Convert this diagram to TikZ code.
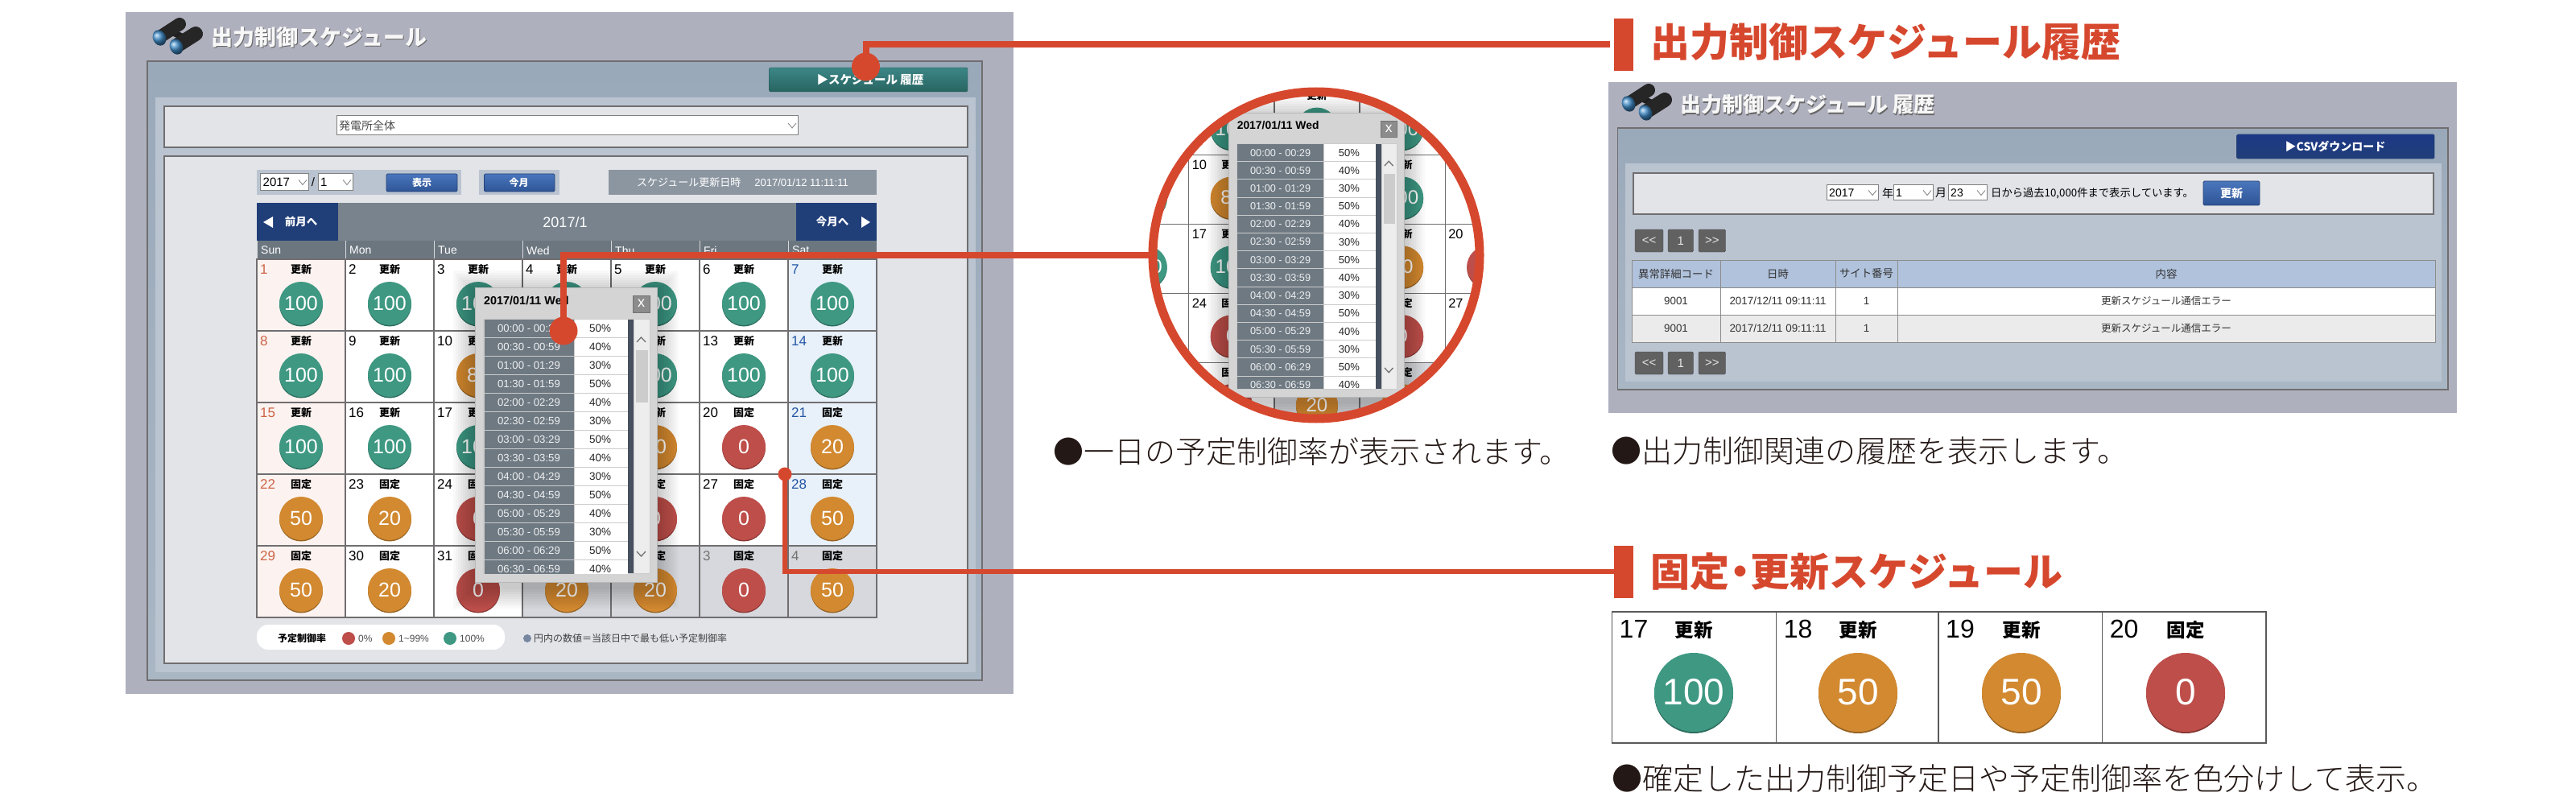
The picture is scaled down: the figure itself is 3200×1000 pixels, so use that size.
\documentclass[tikz,border=0pt]{standalone}
\usepackage{fontspec}
\setmainfont{Liberation Sans}
\newfontfamily\jp{Noto Sans CJK JP}
\newfontfamily\jplight{Noto Sans CJK JP Light}
\newcommand{\jpfs}[1]{\jp\fontsize{#1}{#1}\selectfont}
\newcommand{\jplightfs}[1]{\jplight\fontsize{#1}{#1}\selectfont}
\newcommand{\enfs}[1]{\fontsize{#1}{#1}\selectfont}

\definecolor{pagebg}{RGB}{175,176,190}
\definecolor{framebg}{RGB}{154,169,186}
\definecolor{innerbg}{RGB}{186,196,208}
\definecolor{panelbg}{RGB}{226,228,232}
\definecolor{edgegray}{RGB}{112,110,112}
\definecolor{ballteal}{RGB}{62,152,130}
\definecolor{ballorange}{RGB}{210,137,48}
\definecolor{ballred}{RGB}{190,78,74}
\definecolor{sunbg}{RGB}{252,243,240}
\definecolor{satbg}{RGB}{232,241,249}
\definecolor{nextbg}{RGB}{214,216,221}
\definecolor{sunnum}{RGB}{205,100,70}
\definecolor{satnum}{RGB}{35,85,165}
\definecolor{navy}{RGB}{32,62,120}
\definecolor{slate}{RGB}{120,131,141}
\definecolor{redmark}{RGB}{214,72,46}
\definecolor{captext}{RGB}{35,24,21}
\definecolor{tablehead}{RGB}{176,194,220}
\definecolor{btntop}{RGB}{74,118,188}
\definecolor{btnlow}{RGB}{46,84,150}
\definecolor{tealtop}{RGB}{60,135,135}
\definecolor{teallow}{RGB}{40,100,96}
\definecolor{scrolldark}{RGB}{70,80,95}
\definecolor{notedot}{RGB}{120,135,160}

\tikzset{
    jptext/.style={font=\jpfs{#1}, inner sep=0pt},
    jpbold/.style={font=\jpfs{#1}\bfseries, inner sep=0pt},
    entext/.style={font=\enfs{#1}, inner sep=0pt},
    enbold/.style={font=\enfs{#1}\bfseries, inner sep=0pt},
    dayball/.style={circle, fill=#1, minimum size=54, inner sep=0pt, text=white, font=\enfs{25}},
    panelbox/.style={draw=edgegray, line width=1.5, fill=panelbg},
    selectbox/.style={draw=gray, line width=1, fill=white},
    bluebtn/.style={draw=btnlow!80!black, line width=.8, rounded corners=1.5, top color=btntop, bottom color=btnlow},
    pagerbtn/.style={draw=gray!60!black, rounded corners=1.5, fill=black!62},
    redwire/.style={draw=redmark, line width=#1},
    reddot/.style={circle, fill=redmark, inner sep=0pt, minimum size=#1},
    redbar/.style={rectangle, fill=redmark, inner sep=0pt, minimum width=24.5, minimum height=65},
    lensrim/.style={circle, draw=redmark, line width=11, inner sep=0pt, minimum size=406},
    caption/.style={font=\jplightfs{38}, inner sep=0pt, text=captext, anchor=west},
    heading/.style={font=\jpfs{49}\bfseries, inner sep=0pt, text=redmark, anchor=west},
}

\newcommand{\binoculars}[1]{
    \begin{scope}[shift={(#1)}]
        \draw [black!88, line width=8] (14,-8) -- (33,1);
        \draw [black!85, line width=16, line cap=round] (2,-2) -- (25,-17);
        \draw [black!85, line width=18, line cap=round] (23,9) -- (45,-5);
        \shade [ball color=btntop!85!cyan, rotate=25] (0,0) ellipse (8 and 10);
        \shade [ball color=btntop!85!cyan, shift={(21,11)}, rotate=25] (0,0) ellipse (8 and 10);
    \end{scope}
}

\newcommand{\titlebar}[3]{
    \node [jpbold=#3, text=black!60, anchor=west] (#1shade) at (#2) [xshift=1.5, yshift=-1.5] {\titletext};
    \node [jpbold=#3, text=white!94!gray, anchor=west] (#1) at (#2) {\titletext};
}

\newcommand{\dropbox}[5]{
    \draw [selectbox] (#1,#2) rectangle (#3,#4);
    \draw [gray, line width=.8] (#3-12,#2*.5+#4*.5-3) -- (#3-7,#2*.5+#4*.5+3) -- (#3-2,#2*.5+#4*.5-3);
    \node [#5] (boxtext) at (#1+3,#2*.5+#4*.5) [anchor=west] {\boxlabel};
}

\newcommand{\calgrid}{
    \fill [white] (319,322) rectangle (1089,767);
    \foreach \d/\st/\v [count=\i from 0] in {
        1/更新/100, 2/更新/100, 3/更新/100, 4/更新/100, 5/更新/100, 6/更新/100, 7/更新/100,
        8/更新/100, 9/更新/100, 10/更新/80, 11/更新/100, 12/更新/100, 13/更新/100, 14/更新/100,
        15/更新/100, 16/更新/100, 17/更新/100, 18/更新/50, 19/更新/50, 20/固定/0, 21/固定/20,
        22/固定/50, 23/固定/20, 24/固定/0, 25/固定/0, 26/固定/0, 27/固定/0, 28/固定/50,
        29/固定/50, 30/固定/20, 31/固定/0, 1/固定/20, 2/固定/20, 3/固定/0, 4/固定/50} {
        \pgfmathtruncatemacro{\col}{mod(\i,7)}
        \pgfmathtruncatemacro{\cx}{319+110*\col}
        \pgfmathtruncatemacro{\cy}{322+89*int(\i/7)}
        \def\cellbg{white}\def\numcol{black}
        \ifnum\col=0 \def\cellbg{sunbg}\def\numcol{sunnum}\fi
        \ifnum\col=6 \def\cellbg{satbg}\def\numcol{satnum}\fi
        \ifnum\i>30 \def\cellbg{nextbg}\def\numcol{black!55}\fi
        \def\ballcol{ballorange}
        \ifnum\v=100 \def\ballcol{ballteal}\fi
        \ifnum\v=0 \def\ballcol{ballred}\fi
        \def\daylabel{\d}\def\statlabel{\st}\def\balllabel{\v}
        \ifnum\col=3
            \ifnum\i=3 \def\balllabel{}\fi
            \ifnum\i>3 \def\daylabel{}\def\statlabel{}\ifnum\i<31 \def\balllabel{}\fi\fi
        \fi
        \ifnum\col=4 \ifnum\i>4 \def\daylabel{}\fi\fi
        \draw [edgegray, line width=1.2, fill=\cellbg] (\cx,\cy) rectangle (\cx+110,\cy+89);
        \node [entext=17, text=\numcol, anchor=west] (num\i) at (\cx+4,\cy+13) {\daylabel};
        \node [jpbold=13] (stat\i) at (\cx+55,\cy+13) {\statlabel};
        \fill [\ballcol!72!black] (\cx+55,\cy+56.5) circle (27);
        \node [dayball=\ballcol] (ball\i) at (\cx+55,\cy+55) {\balllabel};
    }
    \foreach \s in {3,6,...,27} {
        \fill [black, opacity=.025] (590-\s,357-\s+6) rectangle (816+\s,723+\s+6);
    }
    \fill [black!17] (590,357) rectangle (816,723);
    \draw [black!28] (590,357) rectangle (816,723);
    \node [enbold=14.4, anchor=west] (popdate) at (601,373) {2017/01/11 Wed};
    \draw [black!55, fill=black!45] (786,367) rectangle (807,388);
    \node [entext=18, text=white] (popclose) at (796.5,377) {x};
    \fill [black!20] (600,396) rectangle (808,713);
    \begin{scope}
        \clip (601,397) rectangle (807,712);
        \fill [scrolldark] (779.5,397) rectangle (786.5,712);
        \fill [black!7] (788,397) rectangle (807,712);
        \fill [black!20] (790,435) rectangle (805,500);
        \foreach \t/\p [count=\j from 0] in {
            00:00 - 00:29/50, 00:30 - 00:59/40, 01:00 - 01:29/30, 01:30 - 01:59/50,
            02:00 - 02:29/40, 02:30 - 02:59/30, 03:00 - 03:29/50, 03:30 - 03:59/40,
            04:00 - 04:29/30, 04:30 - 04:59/50, 05:00 - 05:29/40, 05:30 - 05:59/30,
            06:00 - 06:29/50, 06:30 - 06:59/40} {
            \pgfmathsetmacro{\ry}{397+23*\j}
            \fill [slate!92!black] (601.5,\ry) rectangle (712.5,\ry+22);
            \fill [white] (713.5,\ry) rectangle (779.5,\ry+22);
            \node [entext=13.2, text=white!88!slate] (time\j) at (657,\ry+11) {\t};
            \node [entext=13.5, text=black!85] (pct\j) at (745.5,\ry+11) {\p\%};
        }
    \end{scope}
    \draw [black!55, line width=1.3] (791,425) -- (796.5,419) -- (802,425);
    \draw [black!55, line width=1.3] (791,685) -- (796.5,691) -- (802,685);
}

\begin{document}
\begin{tikzpicture}[x=1pt, y=-1pt]
    \useasboundingbox (0,0) rectangle (3200,1000);

    \fill [pagebg] (156,15) rectangle (1259,862);
    \draw [edgegray, line width=1.5, top color=framebg, bottom color=framebg!85!white] (183,76) rectangle (1220,845);
    \fill [innerbg] (193,121) rectangle (1212,835);
    \draw [panelbox] (204,132) rectangle (1202,183);
    \draw [panelbox] (204,194) rectangle (1202,824);

    \binoculars{198,47}
    \def\titletext{出力制御スケジュール}
    \titlebar{maintitle}{262,46}{27}

    \draw [rounded corners=2, draw=teallow!80!black, top color=tealtop, bottom color=teallow] (955.5,84) rectangle (1202,114);
    \node [jpbold=14.5, text=white] (histbtn) at (1081,99) {▶スケジュール 履歴};

    \def\boxlabel{発電所全体}
    \dropbox{418}{144}{991}{168}{jptext=14, text=black!70}

    \fill [innerbg] (319,211) rectangle (573,242);
    \fill [innerbg] (595,211) rectangle (695,242);
    \def\boxlabel{2017}
    \dropbox{323.5}{216}{383}{237}{entext=15}
    \node [entext=15] (slash) at (389,226.5) {/};
    \def\boxlabel{1}
    \dropbox{395}{216}{438}{237}{entext=15}
    \draw [bluebtn] (480,216) rectangle (568,238);
    \node [jpbold=12, text=white] (showbtn) at (524,227) {表示};
    \draw [bluebtn] (601.5,216) rectangle (689,238);
    \node [jpbold=12, text=white] (monthbtn) at (644.5,227) {今月};
    \fill [slate!70!innerbg] (756,211) rectangle (1089,242);
    \node [jptext=13, text=white, anchor=west] (updlabel) at (791,226.5) {スケジュール更新日時};
    \node [entext=13, text=white, anchor=east] (updtime) at (1054,226.5) {2017/01/12 11:11:11};

    \fill [slate] (319,252) rectangle (1089,299);
    \fill [navy] (319,252) rectangle (420,299);
    \fill [navy] (989,252) rectangle (1089,299);
    \fill [white] (339,269) -- (339,283) -- (327,276) -- cycle;
    \fill [white] (1070,269) -- (1070,283) -- (1081,276) -- cycle;
    \node [jpbold=13.5, text=white] (prevmonth) at (374,275) {前月へ};
    \node [jpbold=13.5, text=white] (nextmonth) at (1034,275) {今月へ};
    \node [entext=18, text=white] (monthname) at (702,276) {2017/1};
    \fill [slate!90!black] (319,299) rectangle (1089,322);
    \foreach \n [count=\i from 0] in {Sun,Mon,Tue,Wed,Thu,Fri,Sat} {
        \draw [white!70!slate] (319+110*\i,299) -- (319+110*\i,322);
        \node [entext=14, text=white, anchor=west] (head\n) at (324+110*\i,311) {\n};
    }

    \calgrid

    \fill [white, rounded corners=14] (319,776) rectangle (627,807);
    \node [jpbold=12] (legendname) at (375,793) {予定制御率};
    \foreach \x/\c/\t in {433/ballred/0\%, 483/ballorange/1\textasciitilde99\%, 559/ballteal/100\%} {
        \fill [\c] (\x,793) circle (8);
        \node [entext=12, text=black!70, anchor=west] (legend\x) at (\x+12,793) {\t};
    }
    \fill [notedot] (655,793) circle (5);
    \node [jptext=12, text=black!75, anchor=west] (legendnote) at (663,793) {円内の数値＝当該日中で最も低い予定制御率};

    \coordinate (lenscentre) at (1635,317);
    \begin{scope}
        \clip (lenscentre) circle (203);
        \fill [white] (1427,108) rectangle (1843,526);
        \begin{scope}[shift={(1635,317)}, scale=.965, shift={(-703,-540)}, transform shape]
            \calgrid
        \end{scope}
    \end{scope}
    \node [lensrim] (lens) at (lenscentre) {};
    \node [caption] (lenscap) at (1308,561) {●一日の予定制御率が表示されます。};

    \fill [pagebg] (1997.5,102) rectangle (3052,513);
    \draw [edgegray, line width=1.5, top color=framebg, bottom color=framebg!85!white] (2009.5,159) rectangle (3041,484);
    \fill [innerbg] (2018.6,203) rectangle (3033,474);
    \binoculars{2023,129}
    \def\titletext{出力制御スケジュール 履歴}
    \titlebar{histtitle}{2087,130}{26}
    \draw [bluebtn, top color=navy!90!blue, bottom color=navy] (2778.6,167) rectangle (3024,197);
    \node [jpbold=14, text=white] (csvbtn) at (2901,182) {▶CSVダウンロード};
    \draw [panelbox] (2029,215) rectangle (3023,266);
    \def\boxlabel{2017}
    \dropbox{2269}{230}{2333}{249}{entext=14}
    \node [jptext=14] (yearunit) at (2345,240) {年};
    \def\boxlabel{1}
    \dropbox{2352}{230}{2401}{249}{entext=14}
    \node [jptext=14] (monthunit) at (2411,240) {月};
    \def\boxlabel{23}
    \dropbox{2420}{230}{2468}{249}{entext=14}
    \node [jptext=13.3, anchor=west] (fromtext) at (2473,240) {日から過去10,000件まで表示しています。};
    \draw [bluebtn] (2737,225) rectangle (2807,255);
    \node [jpbold=14, text=white] (updbtn) at (2772,240) {更新};
    \foreach \y/\tag in {285/top, 437/low} {
        \foreach \xa/\xb/\t [count=\k] in {2031/2066/<\kern0pt<, 2072/2103.5/1, 2110/2143.5/>\kern0pt>} {
            \draw [pagerbtn] (\xa,\y) rectangle (\xb,\y+28);
            \node [entext=15, text=white!80!gray] (pager\tag\k) at (\xa*.5+\xb*.5,\y+14) {\t};
        }
    }
    \fill [tablehead] (2027,323) rectangle (3025,357);
    \fill [white] (2027,357) rectangle (3025,391);
    \fill [black!8] (2027,391) rectangle (3025,425);
    \draw [black!45] (2027,323) rectangle (3025,425) (2027,357) -- (3025,357) (2027,391) -- (3025,391);
    \foreach \x in {2137,2280,2357} {
        \draw [black!45] (\x,323) -- (\x,425);
    }
    \node [jptext=13.4, text=black!80] (colcode) at (2082,340) {異常詳細コード};
    \node [jptext=13.4, text=black!80] (coldate) at (2208.5,340) {日時};
    \node [jptext=13.4, text=black!80] (colsite) at (2318.5,340) {サイト番号};
    \node [jptext=13.4, text=black!80] (coltext) at (2691,340) {内容};
    \foreach \y in {374,408} {
        \node [entext=13.4, text=black!80] (code\y) at (2082,\y) {9001};
        \node [entext=13.4, text=black!80] (date\y) at (2208.5,\y) {2017/12/11 09:11:11};
        \node [entext=13.4, text=black!80] (site\y) at (2318.5,\y) {1};
        \node [jptext=12.5, text=black!80] (text\y) at (2691,\y) {更新スケジュール通信エラー};
    }
    \node [caption] (histcap) at (2001,560) {●出力制御関連の履歴を表示します。};

    \foreach \x/\w/\cx/\d/\st/\v/\c in {
        2002.5/204.2/2104/17/更新/100/ballteal,
        2206.7/201.3/2308/18/更新/50/ballorange,
        2408/203.6/2511/19/更新/50/ballorange,
        2611.6/203.4/2715/20/固定/0/ballred} {
        \draw [black!65, line width=1.2] (\x,760) rectangle (\x+\w,923);
        \node [entext=32, anchor=west] (snum\d) at (\x+9,781) {\d};
        \node [jpbold=23.5] (sstat\d) at (\cx,783) {\st};
        \fill [\c!72!black] (\cx,862) circle (49);
        \node [dayball=\c, minimum size=98, font=\enfs{46}] (sball\d) at (\cx,860) {\v};
    }
    \node [caption] (samplecap) at (2002,967) {●確定した出力制御予定日や予定制御率を色分けして表示。};

    \node [redbar] (barA) at (2017,55.5) {};
    \node [redbar] (barB) at (2017,710) {};
    \node [heading] (headA) at (2050,52) {出力制御スケジュール履歴};
    \node [heading] (headB) at (2050,710) {固定\kern-11pt・\kern-12pt更新スケジュール};

    \node [reddot=35] (dotA) at (1075.5,83) {};
    \node [reddot=35] (dotB) at (700,411) {};
    \node [reddot=17] (dotC) at (975,589) {};
    \draw [redwire=8, shorten >=4.5] (dotA.center) |- (barA.west);
    \draw [redwire=8] (dotB.center) |- (lens.west);
    \draw [redwire=6] (dotC.center) |- (barB.west);
\end{tikzpicture}
\end{document}
